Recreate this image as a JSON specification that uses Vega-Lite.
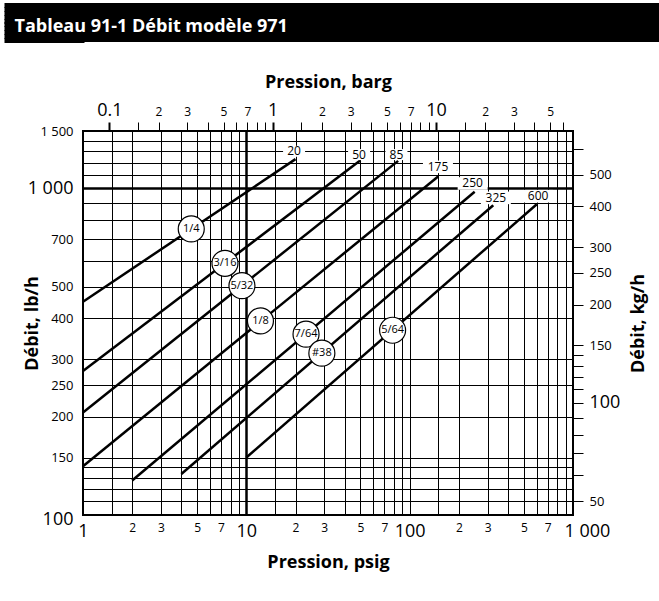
{
  "$schema": "https://vega.github.io/schema/vega-lite/v6.json",
  "padding": {"left": 0, "top": 2, "right": 0, "bottom": 0},
  "background": "white",
  "spacing": 29,
  "config": {
    "font": "Open Sans",
    "view": {"stroke": null},
    "axis": {"labelFont": "Open Sans", "titleFont": "Open Sans", "labelColor": "black", "titleColor": "black"},
    "text": {"font": "Open Sans"},
    "title": {"font": "Open Sans"}
  },
  "datasets": {
    "lines": [
      {"orifice": "1/4", "psig": 1, "lb": 450}, {"orifice": "1/4", "psig": 20, "lb": 1230},
      {"orifice": "3/16", "psig": 1, "lb": 276}, {"orifice": "3/16", "psig": 50, "lb": 1220},
      {"orifice": "5/32", "psig": 1, "lb": 206}, {"orifice": "5/32", "psig": 85, "lb": 1215},
      {"orifice": "1/8", "psig": 1, "lb": 141}, {"orifice": "1/8", "psig": 150, "lb": 1090},
      {"orifice": "7/64", "psig": 2, "lb": 127.5}, {"orifice": "7/64", "psig": 250, "lb": 977},
      {"orifice": "#38", "psig": 4, "lb": 133.5}, {"orifice": "#38", "psig": 325, "lb": 889},
      {"orifice": "5/64", "psig": 10, "lb": 150}, {"orifice": "5/64", "psig": 600, "lb": 895}
    ],
    "circles": [
      {"orifice": "1/4", "psig": 4.6, "lb": 752},
      {"orifice": "3/16", "psig": 7.4, "lb": 590},
      {"orifice": "5/32", "psig": 9.4, "lb": 504},
      {"orifice": "1/8", "psig": 12.2, "lb": 393},
      {"orifice": "7/64", "psig": 23.2, "lb": 358},
      {"orifice": "#38", "psig": 29, "lb": 313},
      {"orifice": "5/64", "psig": 78.6, "lb": 368}
    ],
    "maxp": [
      {"pmax": "20", "psig": 19.6, "lb": 1300},
      {"pmax": "50", "psig": 49, "lb": 1270},
      {"pmax": "85", "psig": 83, "lb": 1270},
      {"pmax": "175", "psig": 149, "lb": 1165},
      {"pmax": "250", "psig": 243, "lb": 1036},
      {"pmax": "325", "psig": 337, "lb": 936},
      {"pmax": "600", "psig": 612, "lb": 947}
    ]
  },
  "vconcat": [
    {
      "width": 577,
      "height": 39,
      "view": {"fill": "black", "stroke": null},
      "data": {"values": [{"h": 0.5}]},
      "mark": {"type": "point", "opacity": 0},
      "encoding": {
        "x": {
          "field": "h", "type": "quantitative",
          "scale": {"domain": [0, 1]},
          "axis": {
            "orient": "top",
            "zindex": 2,
            "labels": false, "ticks": false, "domain": false, "grid": false,
            "title": "Tableau 91-1 Débit modèle 971",
            "titleX": -69, "titleY": 28,
            "titleAlign": "left", "titleAnchor": "start", "titleBaseline": "alphabetic",
            "titleColor": "white", "titleFontSize": 18, "titleFontWeight": "bold"
          }
        },
        "y": {
          "field": "h", "type": "quantitative",
          "scale": {"domain": [0, 1]},
          "axis": {
            "orient": "left",
            "zindex": 1,
            "offset": -1,
            "values": [0.05, 0.15, 0.25, 0.35, 0.45, 0.55, 0.65, 0.75, 0.85, 0.95],
            "labels": false, "domain": false, "grid": false, "title": null,
            "ticks": true, "tickSize": 80, "tickWidth": 5, "tickColor": "black", "tickCap": "butt"
          }
        }
      }
    },
    {
      "width": 490,
      "height": 384,
      "view": {"stroke": "black", "strokeWidth": 2},
      "layer": [
        {
          "layer": [
            {
              "data": {"name": "lines"},
              "mark": {"type": "line", "color": "black", "strokeWidth": 2.5},
              "encoding": {
                "x": {
                  "field": "psig", "type": "quantitative",
                  "scale": {"type": "log", "domain": [1, 1000], "nice": false},
                  "axis": {
                    "orient": "bottom",
                    "values": [1, 1.5, 2, 3, 4, 5, 6, 7, 8, 9, 10, 15, 20, 30, 40, 50, 60, 70, 80, 90, 100, 150, 200, 300, 400, 500, 600, 700, 800, 900, 1000],
                    "labelExpr": "indexof([1,2,3,5,7,10,100], datum.value) >= 0 ? toString(datum.value) : indexof([20,200], datum.value) >= 0 ? '2' : indexof([30,300], datum.value) >= 0 ? '3' : indexof([50,500], datum.value) >= 0 ? '5' : indexof([70,700], datum.value) >= 0 ? '7' : datum.value == 1000 ? '1 000' : ''",
                    "labelFontSize": {"condition": {"test": "indexof([1,10,100,1000], datum.value) >= 0", "value": 18}, "value": 12},
                    "labelAlign": {"condition": {"test": "datum.value == 1000", "value": "left"}, "value": "center"},
                    "labelOffset": {"condition": {"test": "datum.value == 1000", "value": -9}, "value": 0},
                    "labelOverlap": false,
                    "labelFlush": false,
                    "labelPadding": 7,
                    "ticks": false,
                    "domain": false,
                    "grid": true,
                    "gridColor": "black",
                    "gridOpacity": 1,
                    "gridWidth": {"condition": {"test": "datum.value == 10", "value": 2.5}, "value": 1},
                    "title": "Pression, psig",
                    "titleFontSize": 18,
                    "titleFontWeight": "bold",
                    "titlePadding": 13
                  }
                },
                "y": {
                  "field": "lb", "type": "quantitative",
                  "scale": {"type": "log", "domain": [100, 1500], "nice": false},
                  "axis": {
                    "orient": "left",
                    "values": [100, 110, 120, 130, 140, 150, 200, 250, 300, 400, 500, 600, 700, 800, 900, 1000, 1100, 1200, 1300, 1400, 1500],
                    "labelExpr": "datum.value == 1000 ? '1 000' : datum.value == 1500 ? '1 500' : indexof([100,150,200,250,300,400,500,700], datum.value) >= 0 ? toString(datum.value) : ''",
                    "labelFontSize": {"condition": {"test": "datum.value == 100 || datum.value == 1000", "value": 18}, "value": 13},
                    "labelOffset": {"condition": {"test": "datum.value == 100", "value": 4}, "value": 0},
                    "labelOverlap": false,
                    "labelFlush": false,
                    "labelPadding": -72,
                    "ticks": true,
                    "tickSize": 82,
                    "tickOpacity": 0,
                    "domain": false,
                    "grid": true,
                    "gridColor": "black",
                    "gridOpacity": 1,
                    "gridWidth": {"condition": {"test": "datum.value == 1000", "value": 2.5}, "value": 1},
                    "title": "Débit, lb/h",
                    "titleFontSize": 18,
                    "titleFontWeight": "bold",
                    "titleX": -51,
                    "titleY": 192,
                    "titleAngle": 270,
                    "titleAlign": "center",
                    "titleBaseline": "middle"
                  }
                },
                "detail": {"field": "orifice", "type": "nominal"}
              }
            },
            {
              "data": {"name": "maxp"},
              "transform": [{"filter": "length(datum.pmax) == 2"}],
              "mark": {"type": "point", "shape": "M-1,-0.5H1V0.5H-1Z", "filled": true, "color": "white", "opacity": 1, "size": 484},
              "encoding": {
                "x": {"field": "psig", "type": "quantitative"},
                "y": {"field": "lb", "type": "quantitative"}
              }
            },
            {
              "data": {"name": "maxp"},
              "transform": [{"filter": "length(datum.pmax) == 3"}],
              "mark": {"type": "point", "shape": "M-1,-0.42H1V0.42H-1Z", "filled": true, "color": "white", "opacity": 1, "size": 900},
              "encoding": {
                "x": {"field": "psig", "type": "quantitative"},
                "y": {"field": "lb", "type": "quantitative"}
              }
            },
            {
              "data": {"name": "maxp"},
              "mark": {"type": "text", "fontSize": 12, "color": "black", "align": "center", "baseline": "middle"},
              "encoding": {
                "x": {"field": "psig", "type": "quantitative"},
                "y": {"field": "lb", "type": "quantitative"},
                "text": {"field": "pmax"}
              }
            },
            {
              "data": {"name": "circles"},
              "mark": {"type": "point", "shape": "circle", "filled": true, "fill": "white", "stroke": "black", "strokeWidth": 1.2, "opacity": 1, "size": 676},
              "encoding": {
                "x": {"field": "psig", "type": "quantitative"},
                "y": {"field": "lb", "type": "quantitative"}
              }
            },
            {
              "data": {"name": "circles"},
              "mark": {"type": "text", "fontSize": 11, "color": "black", "align": "center", "baseline": "middle"},
              "encoding": {
                "x": {"field": "psig", "type": "quantitative"},
                "y": {"field": "lb", "type": "quantitative"},
                "text": {"field": "orifice"}
              }
            }
          ]
        },
        {
          "data": {"values": [{"barg": 1}]},
          "mark": {"type": "point", "opacity": 0},
          "encoding": {
            "x": {
              "field": "barg", "type": "quantitative",
              "scale": {"type": "log", "domain": [0.0689476, 68.9476], "nice": false},
              "axis": {
                "orient": "top",
                "values": [0.1, 0.15, 0.2, 0.3, 0.4, 0.5, 0.6, 0.7, 0.8, 0.9, 1, 1.5, 2, 3, 4, 5, 6, 7, 8, 9, 10, 15, 20, 30, 40, 50, 60, 70],
                "labelExpr": "datum.value == 0.1 ? '0.1' : datum.value == 1 ? '1' : datum.value == 10 ? '10' : indexof([0.2,2,20], datum.value) >= 0 ? '2' : indexof([0.3,3,30], datum.value) >= 0 ? '3' : indexof([0.5,5,50], datum.value) >= 0 ? '5' : indexof([0.7,7,70], datum.value) >= 0 ? '7' : ''",
                "labelFontSize": {"condition": {"test": "indexof([0.1,1,10], datum.value) >= 0", "value": 18}, "value": 12},
                "labelOverlap": false,
                "labelFlush": false,
                "labelBaseline": "alphabetic",
                "labelPadding": 7,
                "ticks": true,
                "tickSize": 9,
                "tickColor": "black",
                "tickWidth": {"condition": {"test": "indexof([0.1,1,10], datum.value) >= 0", "value": 2}, "value": 1},
                "domain": false,
                "grid": false,
                "title": "Pression, barg",
                "titleFontSize": 18,
                "titleFontWeight": "bold",
                "titlePadding": 10
              }
            }
          }
        },
        {
          "data": {"values": [{"kg": 100}]},
          "mark": {"type": "point", "opacity": 0},
          "encoding": {
            "y": {
              "field": "kg", "type": "quantitative",
              "scale": {"type": "log", "domain": [45.3592, 680.389], "nice": false},
              "axis": {
                "orient": "right",
                "values": [50, 60, 70, 80, 90, 100, 110, 120, 130, 140, 150, 200, 250, 300, 400, 500, 600],
                "labelExpr": "indexof([50,100,150,200,250,300,400,500], datum.value) >= 0 ? toString(datum.value) : ''",
                "labelFontSize": {"condition": {"test": "datum.value == 100", "value": 18}, "value": 13},
                "labelOverlap": false,
                "labelFlush": false,
                "labelPadding": 6,
                "ticks": true,
                "tickSize": 10,
                "tickColor": "black",
                "tickWidth": 1,
                "domain": false,
                "grid": false,
                "title": "Débit, kg/h",
                "titleFontSize": 18,
                "titleFontWeight": "bold",
                "titleX": 65,
                "titleY": 192,
                "titleAngle": 270,
                "titleAlign": "center",
                "titleBaseline": "middle"
              }
            }
          }
        }
      ],
      "resolve": {"scale": {"x": "independent", "y": "independent"}, "axis": {"x": "independent", "y": "independent"}}
    }
  ]
}
